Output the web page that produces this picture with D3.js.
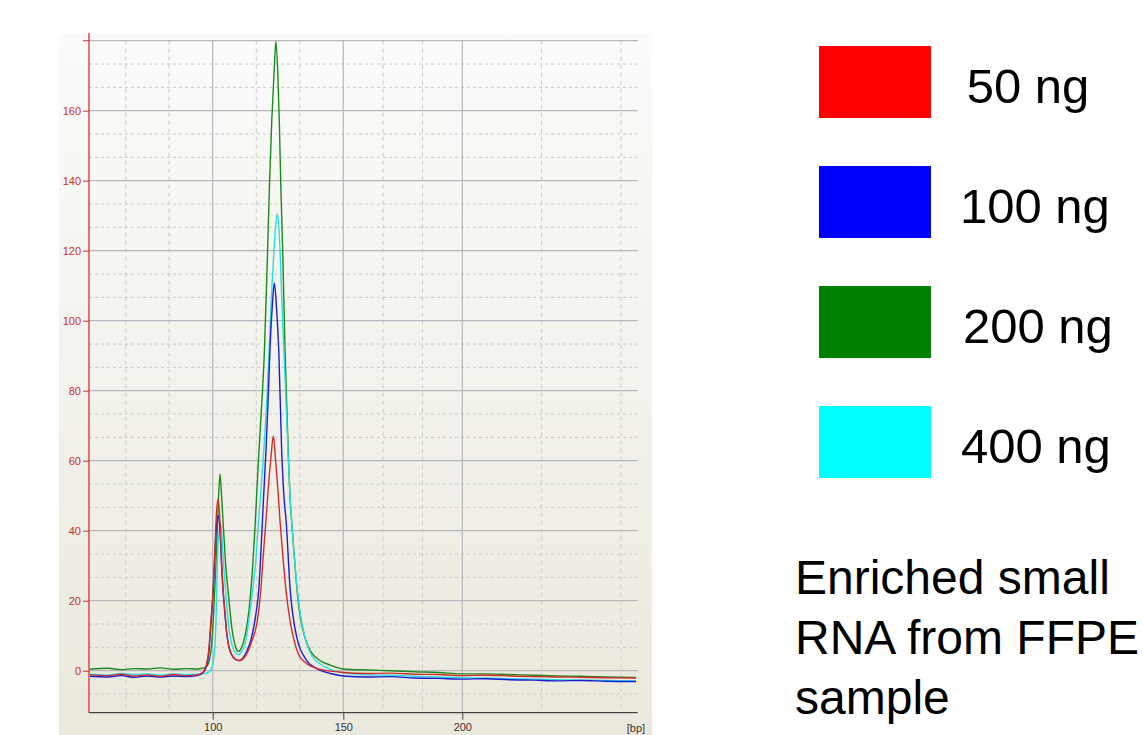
<!DOCTYPE html>
<html><head><meta charset="utf-8">
<script src="https://cdn.jsdelivr.net/npm/d3@7"></script>
<style>html,body{margin:0;padding:0;background:#fff;}svg{display:block;}</style>
</head><body>
<script>
// ---------- data ----------
const xTicks = [100, 150, 200];
const xMinorGrid = [66.7, 83.3, 116.7, 133.3, 166.7, 183.3, 233.3, 266.7];
const yTicks = [0, 20, 40, 60, 80, 100, 120, 140, 160, 180];
const legendLabels = ["50 ng", "100 ng", "200 ng", "400 ng"];
const legendColors = ["#ff0000", "#0000ff", "#008000", "#00ffff"];
const lineColors = ["#d42a2a", "#1c1cd0", "#198a1e", "#27e0e0"];
const noteLines = ["Enriched small", "RNA from FFPE", "sample"];

const red50 = [[53,-1.2],[60,-1.4],[65,-1.0],[70,-1.5],[75,-1.2],[80,-1.6],[85,-1.1],[90,-1.4],[94,-1.2],[96,-0.6],[97,0.5],[97.7,2],[98.5,6],[99.3,14],[100.2,24],[100.9,36],[101.5,45.7],[102.1,49],[102.7,44],[103.4,31.4],[104.0,23],[104.7,17],[105.3,11.5],[106,7.6],[107,5],[108,3.8],[109,3.1],[110.2,2.9],[111.5,3.3],[113,4.8],[115,8.5],[117.1,14.3],[118.3,22],[119.4,33.3],[120.4,43],[121.3,52.4],[122.3,61],[123.2,67.1],[124,61],[124.9,52.4],[125.8,42.5],[126.8,33.3],[128.2,22],[129.6,14.3],[131.2,8.5],[132.8,4.8],[135,2.6],[138.5,1],[142,0.2],[146,-0.2],[150,-0.5],[160,-0.8],[170,-0.7],[180,-1.0],[190,-1.1],[200,-1.4],[210,-1.3],[220,-1.5],[230,-1.7],[240,-1.8],[250,-1.9],[260,-2.0],[273,-2.1]];

const blue100 = [[53,-1.6],[60,-1.8],[65,-1.4],[70,-1.9],[75,-1.5],[80,-1.8],[85,-1.5],[90,-1.7],[94,-1.4],[96,-0.8],[97,0.2],[97.7,1.5],[98.5,5],[99.3,13],[100.2,23],[100.9,34],[101.5,42],[102.2,44.3],[102.8,40],[103.4,30],[104,22.5],[104.7,16],[105.3,11],[106,7.5],[107,5],[108,3.7],[109,3.1],[110.2,2.9],[111.5,3.6],[113,5.5],[114.9,9.5],[116.5,16],[117.7,23.8],[118.6,36],[119.5,50],[120.4,63],[121.2,77],[121.9,91.4],[122.8,104],[123.6,110.8],[124.4,104],[125.3,91.4],[126.4,62.9],[127.3,49.5],[128.1,42.9],[129.6,23.8],[132.2,9.5],[136,2.9],[140,0.5],[145,-0.8],[150,-1.5],[160,-1.8],[170,-1.7],[180,-2.1],[190,-2.2],[200,-2.4],[210,-2.3],[220,-2.6],[230,-2.7],[240,-2.9],[250,-2.8],[260,-3.0],[273,-3.1]];

const green200 = [[53,0.4],[60,0.7],[65,0.3],[70,0.6],[75,0.5],[80,0.8],[85,0.4],[90,0.6],[94,0.5],[96,0.7],[97.4,1],[98.3,2],[99,4],[99.6,7.6],[100.4,17],[101.3,31.4],[102,45],[102.8,56.2],[103.4,50],[104.1,41],[105,30],[106,22],[107.3,12.4],[108.5,7.5],[109.8,5.5],[111,6.5],[112,8.8],[113,12.4],[114.5,22],[115.4,31],[116.2,41],[117.5,60],[118.4,71.4],[119.8,91.4],[120.9,117],[121.7,138],[122.6,157],[123.5,171],[124.2,179.8],[124.9,171],[125.5,157],[126.1,138],[126.8,120],[127.7,91.4],[128.9,62.9],[129.6,49.5],[130.2,42.9],[131,35],[132.2,23.8],[133.5,15.5],[135.3,9.5],[137.5,5.5],[141.1,2.9],[145,1.6],[150,0.5],[160,0.2],[170,0],[180,-0.3],[190,-0.5],[200,-0.9],[210,-0.9],[220,-1.1],[230,-1.3],[240,-1.5],[250,-1.6],[260,-1.8],[273,-1.9]];

const cyan400 = [[53,-1.0],[60,-1.2],[65,-0.8],[70,-1.1],[75,-0.9],[80,-1.3],[85,-0.9],[90,-1.1],[94,-1.0],[97,-0.8],[98.5,-0.4],[99.5,0.5],[100.3,3],[100.9,7.6],[101.4,18],[101.8,31.4],[102.4,39],[103.1,42.1],[103.6,38],[104.1,31.4],[104.8,24],[105.6,17],[106.4,11],[107.3,7.6],[108.5,5.3],[109.8,4.6],[111,5.3],[112.4,7.6],[114.3,17],[115.3,23],[116.5,31.4],[117.3,40],[118.1,48],[119.1,58],[120,68],[120.9,80],[121.8,95],[122.7,110],[123.6,122],[124.2,128],[124.7,130.5],[125.3,127],[125.9,118],[126.5,105],[127.2,92],[127.9,80],[128.8,63],[129.6,50],[130.3,42],[131.2,33],[132.3,24],[133.7,15.5],[135.5,9],[138,4.2],[141,2],[145,0.4],[150,-0.6],[160,-1.2],[170,-1.3],[180,-1.6],[190,-1.8],[200,-2.0],[210,-2.1],[220,-2.3],[230,-2.4],[240,-2.6],[250,-2.7],[260,-2.8],[273,-2.9]];

const seriesOrder = [green200, cyan400, blue100, red50];
const seriesColorIdx = [2, 3, 1, 0];

// ---------- layout ----------
const W = 1143, H = 735;
const plot = {left: 89, right: 637.7, top: 40.7, bottom: 712.7};
const svg = d3.select("body").append("svg").attr("width", W).attr("height", H);

const defs = svg.append("defs");
const grad = defs.append("linearGradient").attr("id", "bg").attr("x1", 0).attr("y1", 0).attr("x2", 0).attr("y2", 1);
grad.append("stop").attr("offset", "0%").attr("stop-color", "#fbfbfa");
grad.append("stop").attr("offset", "100%").attr("stop-color", "#ebe9dd");
defs.append("clipPath").attr("id", "clip").append("rect")
  .attr("x", plot.left).attr("y", plot.top - 2).attr("width", plot.right - plot.left).attr("height", plot.bottom - plot.top + 2);

svg.append("rect").attr("x", 59).attr("y", 34).attr("width", 593).attr("height", H - 34).attr("fill", "url(#bg)");

const x = d3.scaleLinear().domain(xTicks).range([212.7, 343.3, 462.3]);
const y = d3.scaleLinear().domain([-12, 180]).range([plot.bottom, plot.top]);

// grid
const g = svg.append("g");
const yMinor = [];
for (let i = 0; i < yTicks.length; i++) {
  const a = yTicks[i] - 20;
  yMinor.push(a + 20/3, a + 40/3);
}
g.selectAll(".hminor").data(yMinor.filter(v => v > -12)).enter().append("line")
  .attr("x1", plot.left).attr("x2", plot.right).attr("y1", d => y(d)).attr("y2", d => y(d))
  .attr("stroke", "#c9c9c9").attr("stroke-dasharray", "3,3").attr("stroke-width", 1);
g.selectAll(".vminor").data(xMinorGrid).enter().append("line")
  .attr("x1", d => x(d)).attr("x2", d => x(d)).attr("y1", plot.top).attr("y2", plot.bottom)
  .attr("stroke", "#c9c9c9").attr("stroke-dasharray", "4,4").attr("stroke-width", 1);
g.selectAll(".hmajor").data(yTicks).enter().append("line")
  .attr("x1", plot.left).attr("x2", plot.right).attr("y1", d => y(d)).attr("y2", d => y(d))
  .attr("stroke", "#b6b6bc").attr("stroke-width", 1.2);
g.selectAll(".vmajor").data(xTicks).enter().append("line")
  .attr("x1", d => x(d)).attr("x2", d => x(d)).attr("y1", plot.top).attr("y2", plot.bottom)
  .attr("stroke", "#b6b6bc").attr("stroke-width", 1.2);

// lines
const line = d3.line().x(d => x(d[0])).y(d => y(d[1])).curve(d3.curveMonotoneX);
const lg = svg.append("g").attr("clip-path", "url(#clip)");
seriesOrder.forEach((s, i) => {
  lg.append("path").datum(s).attr("d", line).attr("fill", "none")
    .attr("stroke", lineColors[seriesColorIdx[i]]).attr("stroke-width", 1.4);
});

// y axis (red)
const yAxis = d3.axisLeft(y).tickValues(yTicks.filter(v => v < 180)).tickSize(6).tickPadding(2).tickFormat(d3.format("d"));
const ya = svg.append("g").attr("transform", `translate(${plot.left},0)`).call(yAxis);
ya.select(".domain").remove();
ya.selectAll("line").attr("stroke", "#d03030");
ya.selectAll("text").attr("fill", "#c83030").style("font-family", "Liberation Sans, Arial, sans-serif").style("font-size", "11px");
svg.append("line").attr("x1", plot.left).attr("x2", plot.left).attr("y1", 33).attr("y2", plot.bottom).attr("stroke", "#d83030").attr("stroke-width", 1.3);
svg.append("line").attr("x1", plot.left - 6).attr("x2", plot.left).attr("y1", plot.top).attr("y2", plot.top).attr("stroke", "#d03030");

// x axis
const xAxis = d3.axisBottom(x).tickValues(xTicks).tickSize(7).tickPadding(4).tickFormat(d3.format("d"));
const xa = svg.append("g").attr("transform", `translate(0,${plot.bottom})`).call(xAxis);
xa.select(".domain").remove();
xa.selectAll("line").attr("stroke", "#444");
xa.selectAll("text").attr("fill", "#333").style("font-family", "Liberation Sans, Arial, sans-serif").style("font-size", "11px");
svg.append("line").attr("x1", plot.left).attr("x2", plot.right).attr("y1", plot.bottom).attr("y2", plot.bottom).attr("stroke", "#444").attr("stroke-width", 1.3);
svg.append("text").attr("x", 636).attr("y", 732).attr("text-anchor", "middle").attr("fill", "#333")
  .style("font-family", "Liberation Sans, Arial, sans-serif").style("font-size", "11px").text("[bp]");

// legend
const legendTextX = [966.7, 960, 963, 961];
const leg = svg.append("g");
legendLabels.forEach((lab, i) => {
  leg.append("rect").attr("x", 819).attr("y", 46 + i * 120).attr("width", 112).attr("height", 72).attr("fill", legendColors[i]);
  leg.append("text").attr("x", legendTextX[i]).attr("y", 102.7 + i * 120).attr("fill", "#000")
    .style("font-family", "Liberation Sans, Arial, sans-serif").style("font-size", "49px").text(lab);
});

// note
noteLines.forEach((t, i) => {
  svg.append("text").attr("x", 795).attr("y", 594 + i * 60).attr("fill", "#000")
    .style("font-family", "Liberation Sans, Arial, sans-serif").style("font-size", "48px").text(t);
});
</script>
</body></html>
